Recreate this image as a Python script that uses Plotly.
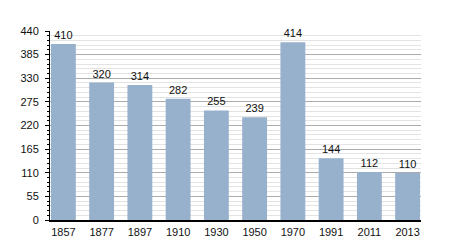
import plotly.graph_objects as go

years = ["1857", "1877", "1897", "1910", "1930", "1950", "1970", "1991", "2011", "2013"]
population = [410, 320, 314, 282, 255, 239, 414, 144, 112, 110]
y_ticks = [0, 55, 110, 165, 220, 275, 330, 385, 440]

fig = go.Figure(go.Bar(
    x=years, y=population,
    text=[str(v) for v in population], textposition="outside",
    textfont=dict(family="Liberation Sans, Arial", size=11, color="#111"),
    marker=dict(color="#97b0cc", line=dict(width=0)),
    width=0.65, cliponaxis=False,
))

fig.update_layout(
    width=450, height=250,
    margin=dict(l=50, r=29, t=31, b=30),
    paper_bgcolor="white", plot_bgcolor="white",
    font=dict(family="Liberation Sans, Arial", size=11, color="#111"),
    showlegend=False,
    bargap=0.35,
)
fig.update_xaxes(
    type="category", range=[-0.35, 9.35],
    showline=True, linecolor="black", linewidth=1.5,
    ticks="", showgrid=False, tickfont=dict(size=11),
    ticklabelstandoff=1,
)
fig.update_yaxes(
    range=[0, 440], tickvals=y_ticks,
    showline=True, linecolor="black", linewidth=1,
    ticks="outside", ticklen=4, tickcolor="black",
    showgrid=True, gridcolor="#acacac", gridwidth=1,
    zeroline=False, tickfont=dict(size=11),
    ticklabelstandoff=4,
    minor=dict(dtick=11, tick0=0, showgrid=True, gridcolor="#e3e3e3",
               ticks="outside", ticklen=2, tickcolor="black"),
)

fig.write_html("out.html")
